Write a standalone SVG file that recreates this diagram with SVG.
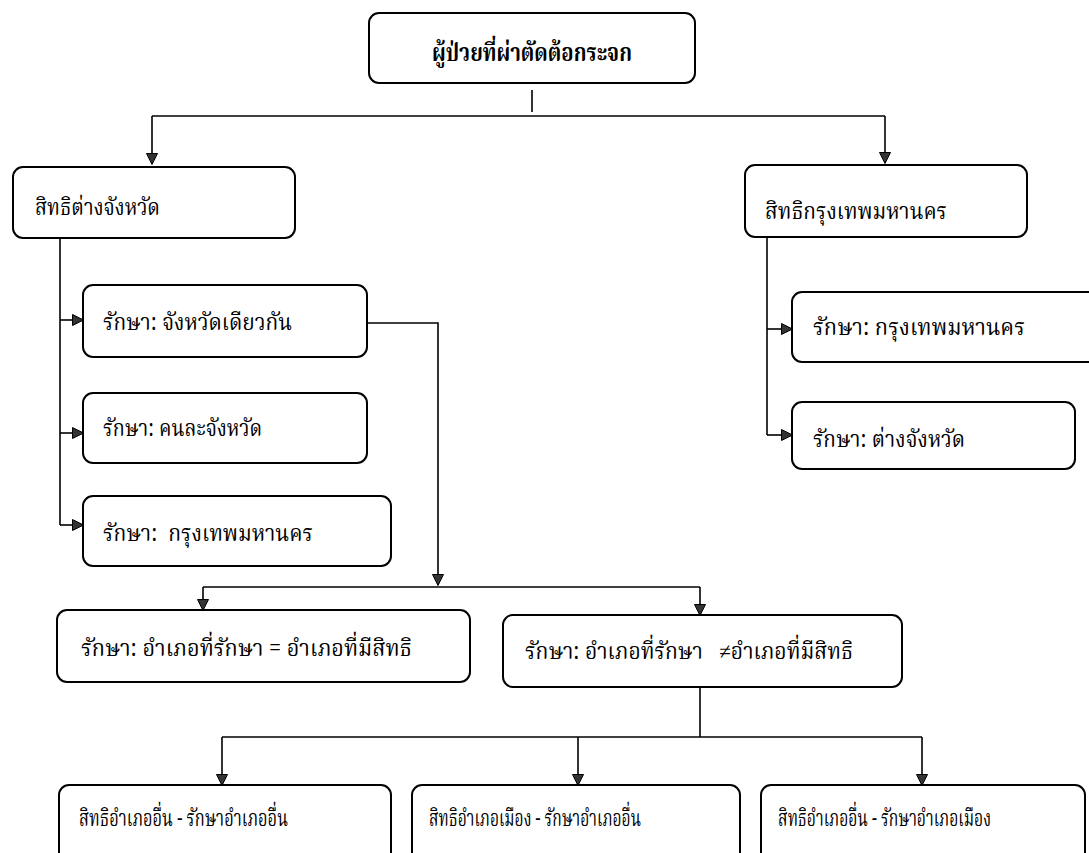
<svg xmlns="http://www.w3.org/2000/svg" width="1089" height="853" viewBox="0 0 1089 853">
<style>
.box{fill:#fff;stroke:#000;stroke-width:2}
.t{font-family:"Noto Serif Thai","Noto Sans Thai","Liberation Serif","DejaVu Serif",serif;font-size:23px;fill:#000}
.b{font-weight:bold;font-size:24px}
.c{fill:none;stroke:#000;stroke-width:1.6}
</style>
<defs>
<marker id="ah" viewBox="0 0 12 12" refX="11" refY="6" markerWidth="12" markerHeight="12" markerUnits="userSpaceOnUse" orient="auto">
<path d="M0.5,0.5 L11.5,6 L0.5,11.5 Z" fill="#333" stroke="#000" stroke-width="1"/>
</marker>
</defs>
<g id="connectors">
<path class="c" d="M532,90 V112"/>
<path class="c" d="M152,116 H885"/>
<path class="c" d="M152,116 V164" marker-end="url(#ah)"/>
<path class="c" d="M885,116 V163" marker-end="url(#ah)"/>
<path class="c" d="M60,238 V525"/>
<path class="c" d="M60,320 H83" marker-end="url(#ah)"/>
<path class="c" d="M60,433 H83" marker-end="url(#ah)"/>
<path class="c" d="M60,525 H83" marker-end="url(#ah)"/>
<path class="c" d="M767,237 V435"/>
<path class="c" d="M767,329 H792" marker-end="url(#ah)"/>
<path class="c" d="M767,435 H792" marker-end="url(#ah)"/>
<path class="c" d="M367,323 H438 V585" marker-end="url(#ah)"/>
<path class="c" d="M203,587 H700"/>
<path class="c" d="M203,587 V610" marker-end="url(#ah)"/>
<path class="c" d="M700,587 V615" marker-end="url(#ah)"/>
<path class="c" d="M700,687 V737"/>
<path class="c" d="M222,737 H922"/>
<path class="c" d="M222,737 V785" marker-end="url(#ah)"/>
<path class="c" d="M578,737 V785" marker-end="url(#ah)"/>
<path class="c" d="M922,737 V785" marker-end="url(#ah)"/>
</g>
<g id="n_root"><rect class="box" x="369" y="13" width="326" height="70" rx="10"/><text class="t b" x="432" y="61" textLength="200" lengthAdjust="spacingAndGlyphs">ผู้ป่วยที่ผ่าตัดต้อกระจก</text></g>
<g id="n_prov"><rect class="box" x="13" y="167" width="282" height="71" rx="10"/><text class="t" x="35" y="215" textLength="125" lengthAdjust="spacingAndGlyphs">สิทธิต่างจังหวัด</text></g>
<g id="n_bkk"><rect class="box" x="745" y="165" width="282" height="72" rx="10"/><text class="t" x="765" y="219" textLength="182" lengthAdjust="spacingAndGlyphs">สิทธิกรุงเทพมหานคร</text></g>
<g id="n_same"><rect class="box" x="83" y="285" width="284" height="72" rx="10"/><text class="t" x="103" y="330" textLength="189" lengthAdjust="spacingAndGlyphs">รักษา: จังหวัดเดียวกัน</text></g>
<g id="n_diff"><rect class="box" x="83" y="393" width="284" height="70" rx="10"/><text class="t" x="103" y="436" textLength="159" lengthAdjust="spacingAndGlyphs">รักษา: คนละจังหวัด</text></g>
<g id="n_tobkk"><rect class="box" x="83" y="496" width="308" height="70" rx="10"/><text class="t" x="103" y="541" textLength="210" lengthAdjust="spacingAndGlyphs">รักษา:&#160; กรุงเทพมหานคร</text></g>
<g id="n_rbkk"><rect class="box" x="792" y="292" width="310" height="70" rx="10"/><text class="t" x="813" y="335" textLength="212" lengthAdjust="spacingAndGlyphs">รักษา: กรุงเทพมหานคร</text></g>
<g id="n_rprov"><rect class="box" x="792" y="402" width="283" height="67" rx="10"/><text class="t" x="813" y="447" textLength="152" lengthAdjust="spacingAndGlyphs">รักษา: ต่างจังหวัด</text></g>
<g id="n_eq"><rect class="box" x="57" y="610" width="413" height="72" rx="10"/><text class="t" x="81" y="656" textLength="331" lengthAdjust="spacingAndGlyphs">รักษา: อำเภอที่รักษา = อำเภอที่มีสิทธิ</text></g>
<g id="n_ne"><rect class="box" x="503" y="615" width="399" height="72" rx="10"/><text class="t" x="525" y="659" textLength="328" lengthAdjust="spacingAndGlyphs">รักษา: อำเภอที่รักษา&#160;&#160; ≠อำเภอที่มีสิทธิ</text></g>
<g id="n_b1"><rect class="box" x="59" y="785" width="332" height="80" rx="10"/><text class="t" x="79" y="826" textLength="209" lengthAdjust="spacingAndGlyphs">สิทธิอำเภออื่น - รักษาอำเภออื่น</text></g>
<g id="n_b2"><rect class="box" x="412" y="785" width="328" height="80" rx="10"/><text class="t" x="429" y="826" textLength="212" lengthAdjust="spacingAndGlyphs">สิทธิอำเภอเมือง - รักษาอำเภออื่น</text></g>
<g id="n_b3"><rect class="box" x="761" y="785" width="324" height="80" rx="10"/><text class="t" x="778" y="826" textLength="213" lengthAdjust="spacingAndGlyphs">สิทธิอำเภออื่น - รักษาอำเภอเมือง</text></g>
</svg>
